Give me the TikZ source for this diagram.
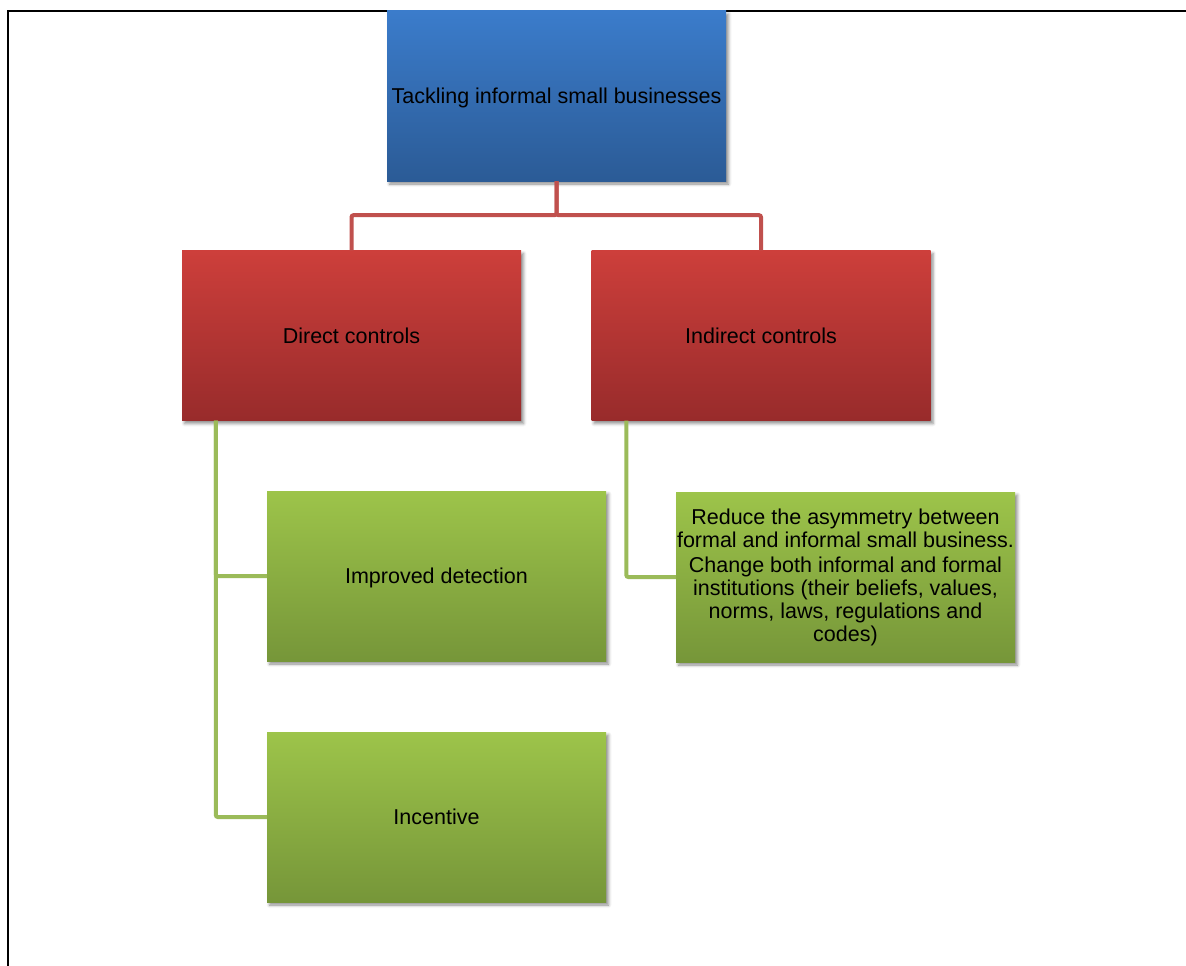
\documentclass[tikz,border=0pt]{standalone}
\usepackage{fontspec}
\setmainfont{Liberation Sans}
\usetikzlibrary{shadows,shadows.blur,calc}
\definecolor{blueTop}{HTML}{3B7CCB}
\definecolor{blueBot}{HTML}{2B5B96}
\definecolor{redTop}{HTML}{CD3F3B}
\definecolor{redBot}{HTML}{982B2B}
\definecolor{greenTop}{HTML}{9DC44A}
\definecolor{greenBot}{HTML}{769639}
\definecolor{redLine}{HTML}{C0504D}
\definecolor{greenLine}{HTML}{9BBB59}
\tikzset{
  boxbase/.style={rectangle, minimum width=339pt, minimum height=170pt, inner sep=2pt,
    font=\fontsize{21.5}{24}\selectfont, text=black, align=center,
    blur shadow={shadow xshift=2.5pt, shadow yshift=-3pt, shadow blur radius=3pt, shadow opacity=45}},
  oneline/.style={text depth=0pt},
  bluebox/.style={boxbase, top color=blueTop, bottom color=blueBot},
  redbox/.style={boxbase, top color=redTop, bottom color=redBot},
  greenbox/.style={boxbase, top color=greenTop, bottom color=greenBot},
  redconn/.style={draw=redLine, line width=4pt, rounded corners=2pt},
  greenconn/.style={draw=greenLine, line width=4pt, rounded corners=2pt},
  frameline/.style={draw=black, line width=2.2pt}
}
\begin{document}
\begin{tikzpicture}[x=1pt,y=-1pt]
\useasboundingbox (0,0) rectangle (1186,966);
% frame
\draw[frameline] (8,966) -- (8,11) -- (1186,11);
% nodes
\node[bluebox, oneline] (top) at (556.5,96) {Tackling informal small businesses};
\node[redbox, oneline] (dc) at (351.5,335.5) {Direct controls};
\node[redbox, oneline] (ic) at (761,335.5) {Indirect controls};
\node[greenbox, oneline] (det) at (436.5,576) {Improved detection};
\node[greenbox, oneline] (inc) at (436.5,817) {Incentive};
\node[greenbox, inner xsep=0pt, font=\fontsize{21.5}{23}\selectfont] (red) at (845.5,577) {Reduce the asymmetry between\\formal and informal small business.\\[2pt]Change both informal and formal\\institutions (their beliefs, values,\\norms, laws, regulations and\\codes)};
% connectors
\coordinate (dcl) at ($(dc.south west)+(34,0)$);
\coordinate (icl) at ($(ic.south west)+(35,0)$);
\draw[redconn] (top.south) -- ++(0,34) -| (dc.north);
\draw[redconn] (top.south) -- ++(0,34) -| (ic.north);
\draw[greenconn] (dcl) |- (det.west);
\draw[greenconn] (dcl) |- (inc.west);
\draw[greenconn] (icl) |- (red.west);
\end{tikzpicture}
\end{document}
